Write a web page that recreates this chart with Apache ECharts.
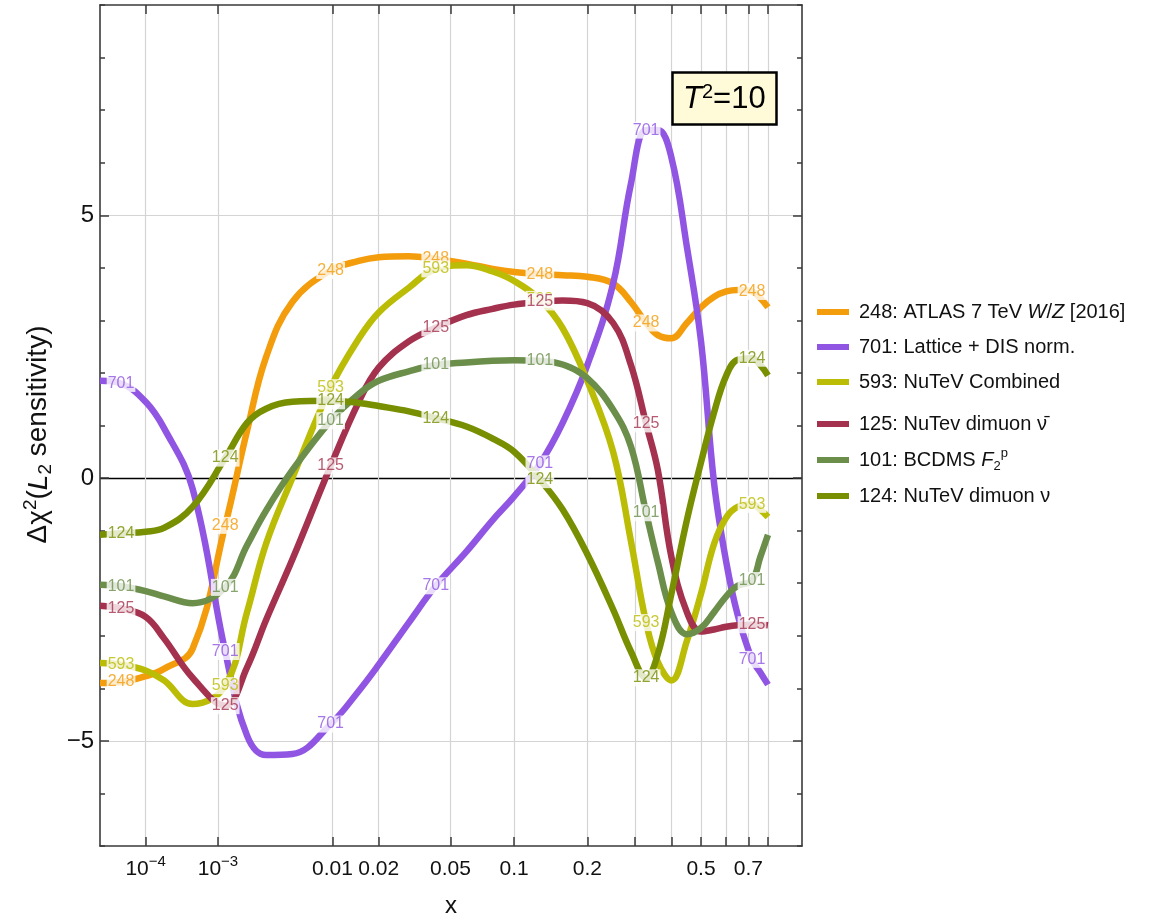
<!DOCTYPE html>
<html>
<head>
<meta charset="utf-8">
<script src="https://cdn.jsdelivr.net/npm/echarts@6/dist/echarts.min.js"></script>
<style>
  html, body { margin: 0; padding: 0; background: #ffffff; }
  #chart { width: 1158px; height: 921px; }
</style>
</head>
<body>
<div id="chart"></div>
<script>
// Sample points in x; the horizontal axis is drawn on an x^0.2 scale.
const xs = [1e-5, 3.3e-5, 1e-4, 2e-4, 5e-4, 1.2e-3, 2e-3, 3e-3, 5e-3, 0.0097, 0.015, 0.02, 0.03, 0.042,
            0.06, 0.08, 0.1, 0.129, 0.16, 0.2, 0.25, 0.29, 0.328, 0.36, 0.4, 0.45, 0.5, 0.55, 0.6,
            0.65, 0.718, 0.76, 0.8];
// Positions (indices into xs) where each curve carries its experiment number
const labelIdx = [1, 5, 9, 13, 17, 22, 30];

// Delta chi^2 (L2 sensitivity) per experiment
const y248 = [-3.90, -3.88, -3.77, -3.63, -3.25, -0.90, 0.90, 2.30, 3.35, 3.95, 4.13, 4.20, 4.22, 4.17,
              4.08, 3.98, 3.92, 3.88, 3.86, 3.83, 3.70, 3.35, 2.95, 2.72, 2.66, 2.95, 3.25, 3.45, 3.55,
              3.58, 3.55, 3.42, 3.25];
const y701 = [1.85, 1.80, 1.45, 0.95, -0.20, -3.30, -4.90, -5.27, -5.25, -4.68, -4.05, -3.55, -2.75, -2.05,
              -1.40, -0.80, -0.35, 0.27, 1.05, 2.15, 3.70, 5.60, 6.62, 6.62, 6.10, 4.40, 2.60, -0.10, -1.60,
              -2.60, -3.45, -3.70, -3.93];
const y593 = [-3.52, -3.55, -3.66, -3.85, -4.30, -3.95, -2.55, -1.25, 0.00, 1.72, 2.65, 3.15, 3.62, 3.98,
              4.05, 3.93, 3.75, 3.40, 2.85, 1.85, 0.50, -1.20, -2.75, -3.50, -3.85, -3.10, -2.20, -1.25, -0.75,
              -0.55, -0.50, -0.60, -0.74];
const y125 = [-2.43, -2.48, -2.64, -3.05, -3.80, -4.33, -3.60, -2.70, -1.55, 0.23, 1.45, 2.10, 2.60, 2.86,
              3.10, 3.22, 3.30, 3.35, 3.38, 3.33, 2.95, 2.15, 1.03, 0.15, -1.50, -2.55, -2.92, -2.88, -2.83,
              -2.80, -2.79, -2.79, -2.80];
const y101 = [-2.03, -2.06, -2.15, -2.25, -2.38, -2.08, -1.28, -0.62, 0.15, 1.09, 1.60, 1.85, 2.03, 2.15,
              2.20, 2.23, 2.24, 2.23, 2.16, 1.90, 1.30, 0.60, -0.66, -1.60, -2.55, -2.97, -2.85, -2.55, -2.25,
              -2.05, -1.95, -1.50, -1.08];
const y124 = [-1.08, -1.05, -1.02, -0.95, -0.55, 0.38, 1.05, 1.32, 1.45, 1.47, 1.43, 1.37, 1.27, 1.14,
              0.98, 0.75, 0.50, -0.03, -0.60, -1.45, -2.50, -3.30, -3.80, -3.35, -2.20, -0.80, 0.30, 1.25, 1.95,
              2.25, 2.28, 2.15, 1.95];

const ids = ['248', '701', '593', '125', '101', '124'];
const names = ['248: ATLAS 7 TeV W/Z [2016]', '701: Lattice + DIS norm.', '593: NuTeV Combined',
               '125: NuTev dimuon \u03bd\u0304', '101: BCDMS F2p', '124: NuTeV dimuon \u03bd'];
const legendText = ['{n|248: ATLAS 7 TeV }{i|W}{n|/}{i|Z}{n| [2016]}',
                    '{n|701: Lattice + DIS norm.}',
                    '{n|593: NuTeV Combined}',
                    '{n|125: NuTev dimuon \u03bd\u0304}',
                    '{n|101: BCDMS }{i|F}{s|2}{p|p}',
                    '{n|124: NuTeV dimuon \u03bd}'];
const colors = ['#f39c0c', '#9055e2', '#bbbc05', '#a4324e', '#6b8e4b', '#778f00'];
const ySeries = [y248, y701, y593, y125, y101, y124];

// Axis ticks
const xTickVals = [1e-4, 1e-3, 0.01, 0.02, 0.05, 0.1, 0.2, 0.3, 0.4, 0.5, 0.6, 0.7, 0.8];
const xLabelVals = [1e-4, 1e-3, 0.01, 0.02, 0.05, 0.1, 0.2, 0.5, 0.7];
const xLabelText = ['{b|10}{p|\u22124}', '{b|10}{p|\u22123}', '{b|0.01}', '{b|0.02}', '{b|0.05}',
                    '{b|0.1}', '{b|0.2}', '{b|0.5}', '{b|0.7}'];
const yMajor = [-5, 0, 5];

const FONT = 'Liberation Sans, Arial, sans-serif';
const scaleX = x => Math.pow(x, 0.2);
const frame = '#3a3a3a';
const gridGray = '#d4d4d4';

const fmtX = v => {
  for (let i = 0; i < xLabelVals.length; i++) {
    if (Math.abs(scaleX(xLabelVals[i]) - v) < 1e-6) return xLabelText[i];
  }
  return '';
};

const lineSeries = ids.map((id, i) => ({
  name: names[i],
  type: 'line',
  color: colors[i],
  data: xs.map((x, k) => [scaleX(x), ySeries[i][k]]),
  smooth: 0.4,
  symbol: 'none',
  showSymbol: false,
  silent: true,
  z: 2 + i,
  lineStyle: { width: 6.5, color: colors[i], cap: 'butt', join: 'round' },
  emphasis: { disabled: true }
}));

const labelSeries = ids.map((id, i) => ({
  type: 'scatter',
  data: labelIdx.map(k => [scaleX(xs[k]), ySeries[i][k]]),
  symbolSize: 1,
  itemStyle: { color: 'rgba(0,0,0,0)' },
  silent: true,
  z: 20 + i,
  label: {
    show: true,
    position: 'inside',
    formatter: id,
    color: colors[i],
    fontSize: 16,
    fontFamily: FONT,
    backgroundColor: '#ffffff',
    padding: [1, 1, 0, 1],
    lineHeight: 16
  },
  emphasis: { disabled: true }
}));

const legendTops = [302, 337, 372, 414, 447, 486];
const legendRich = {
  n: { fontSize: 20, fontFamily: FONT, color: '#111', lineHeight: 26 },
  i: { fontSize: 20, fontFamily: FONT, color: '#111', lineHeight: 26, fontStyle: 'italic' },
  s: { fontSize: 13, fontFamily: FONT, color: '#111', lineHeight: 13, verticalAlign: 'bottom' },
  p: { fontSize: 13, fontFamily: FONT, color: '#111', lineHeight: 13, verticalAlign: 'top' }
};
const legends = ids.map((id, i) => ({
  data: [names[i]],
  left: 817,
  top: legendTops[i],
  icon: 'rect',
  itemWidth: 32,
  itemHeight: 6,
  padding: 0,
  selectedMode: false,
  formatter: () => legendText[i],
  textStyle: { padding: [0, 0, 0, 5], rich: legendRich }
}));

const axisLineStyle = { color: frame, width: 1.6 };
const tickLine = { color: frame, width: 1.5 };

const option = {
  animation: false,
  backgroundColor: '#ffffff',
  title: {
    text: '{t|T}{s|2}{n|=10}',
    left: 672,
    top: 72,
    padding: [10, 11, 10, 11],
    backgroundColor: '#fffbd8',
    borderColor: '#000000',
    borderWidth: 2.5,
    textStyle: {
      fontWeight: 'normal',
      rich: {
        t: { fontSize: 31, fontFamily: FONT, fontStyle: 'italic', fontWeight: 'normal', color: '#000', lineHeight: 34 },
        s: { fontSize: 20, fontFamily: FONT, fontWeight: 'normal', color: '#000', lineHeight: 20, verticalAlign: 'top' },
        n: { fontSize: 31, fontFamily: FONT, fontWeight: 'normal', color: '#000', lineHeight: 34 }
      }
    }
  },
  legend: legends,
  grid: { left: 100, right: 356, top: 5, bottom: 75, containLabel: false, outerBoundsMode: 'none' },
  xAxis: [
    {
      type: 'value', position: 'bottom', min: 0.1, max: 1,
      axisLine: { show: true, onZero: false, lineStyle: axisLineStyle },
      axisTick: { show: true, inside: true, length: 9, customValues: xTickVals.map(scaleX), lineStyle: tickLine },
      axisLabel: {
        show: true, customValues: xLabelVals.map(scaleX), formatter: fmtX, margin: 8,
        hideOverlap: false,
        rich: {
          b: { fontSize: 21, fontFamily: FONT, color: '#111', lineHeight: 30 },
          p: { fontSize: 15, fontFamily: FONT, color: '#111', lineHeight: 15, verticalAlign: 'top' }
        }
      },
      splitLine: { show: true, lineStyle: { color: gridGray, width: 1.2 } },
      name: 'x', nameLocation: 'middle', nameGap: 48,
      nameTextStyle: { fontSize: 24, fontFamily: FONT, color: '#111' }
    },
    {
      type: 'value', position: 'top', min: 0.1, max: 1,
      axisLine: { show: true, onZero: false, lineStyle: axisLineStyle },
      axisTick: { show: true, inside: true, length: 9, customValues: xTickVals.map(scaleX), lineStyle: tickLine },
      axisLabel: { show: false },
      splitLine: { show: false }
    }
  ],
  yAxis: [
    {
      type: 'value', position: 'left', min: -7, max: 9,
      axisLine: { show: true, onZero: false, lineStyle: axisLineStyle },
      axisTick: { show: true, inside: true, length: 9, customValues: yMajor, lineStyle: tickLine },
      axisLabel: {
        show: true, customValues: yMajor, margin: 6,
        formatter: v => (v < 0 ? '\u2212' + (-v) : String(v)),
        fontSize: 24, fontFamily: FONT, color: '#111'
      },
      splitLine: { show: true, lineStyle: { color: gridGray, width: 1.2 } },
      name: '{n|\u0394\u03c7}{p|2}{n|(}{i|L}{s|2}{n| sensitivity)}',
      nameLocation: 'middle', nameRotate: 90, nameGap: 42,
      nameTextStyle: {
        padding: [0, 18, 0, 0],
        rich: {
          n: { fontSize: 28, fontFamily: FONT, color: '#111', lineHeight: 34 },
          i: { fontSize: 28, fontFamily: FONT, color: '#111', lineHeight: 34, fontStyle: 'italic' },
          p: { fontSize: 19, fontFamily: FONT, color: '#111', lineHeight: 19, verticalAlign: 'top' },
          s: { fontSize: 19, fontFamily: FONT, color: '#111', lineHeight: 19, verticalAlign: 'bottom' }
        }
      }
    },
    {
      type: 'value', position: 'left', min: -7, max: 9, interval: 1,
      axisLine: { show: false, onZero: false },
      axisTick: { show: true, inside: true, length: 5, lineStyle: tickLine },
      axisLabel: { show: false },
      splitLine: { show: false }
    },
    {
      type: 'value', position: 'right', min: -7, max: 9,
      axisLine: { show: true, onZero: false, lineStyle: axisLineStyle },
      axisTick: { show: true, inside: true, length: 9, customValues: yMajor, lineStyle: tickLine },
      axisLabel: { show: false },
      splitLine: { show: false }
    },
    {
      type: 'value', position: 'right', min: -7, max: 9, interval: 1,
      axisLine: { show: false, onZero: false },
      axisTick: { show: true, inside: true, length: 5, lineStyle: tickLine },
      axisLabel: { show: false },
      splitLine: { show: false }
    },
    {
      type: 'value', position: 'left', min: -7, max: 9,
      axisLine: { show: false, onZero: false },
      axisTick: { show: false, customValues: [0] },
      axisLabel: { show: false },
      splitLine: { show: true, lineStyle: { color: '#000000', width: 1.3 } }
    }
  ],
  series: lineSeries.concat(labelSeries)
};

const chart = echarts.init(document.getElementById('chart'), null, { renderer: 'canvas' });
chart.setOption(option);
</script>
</body>
</html>
